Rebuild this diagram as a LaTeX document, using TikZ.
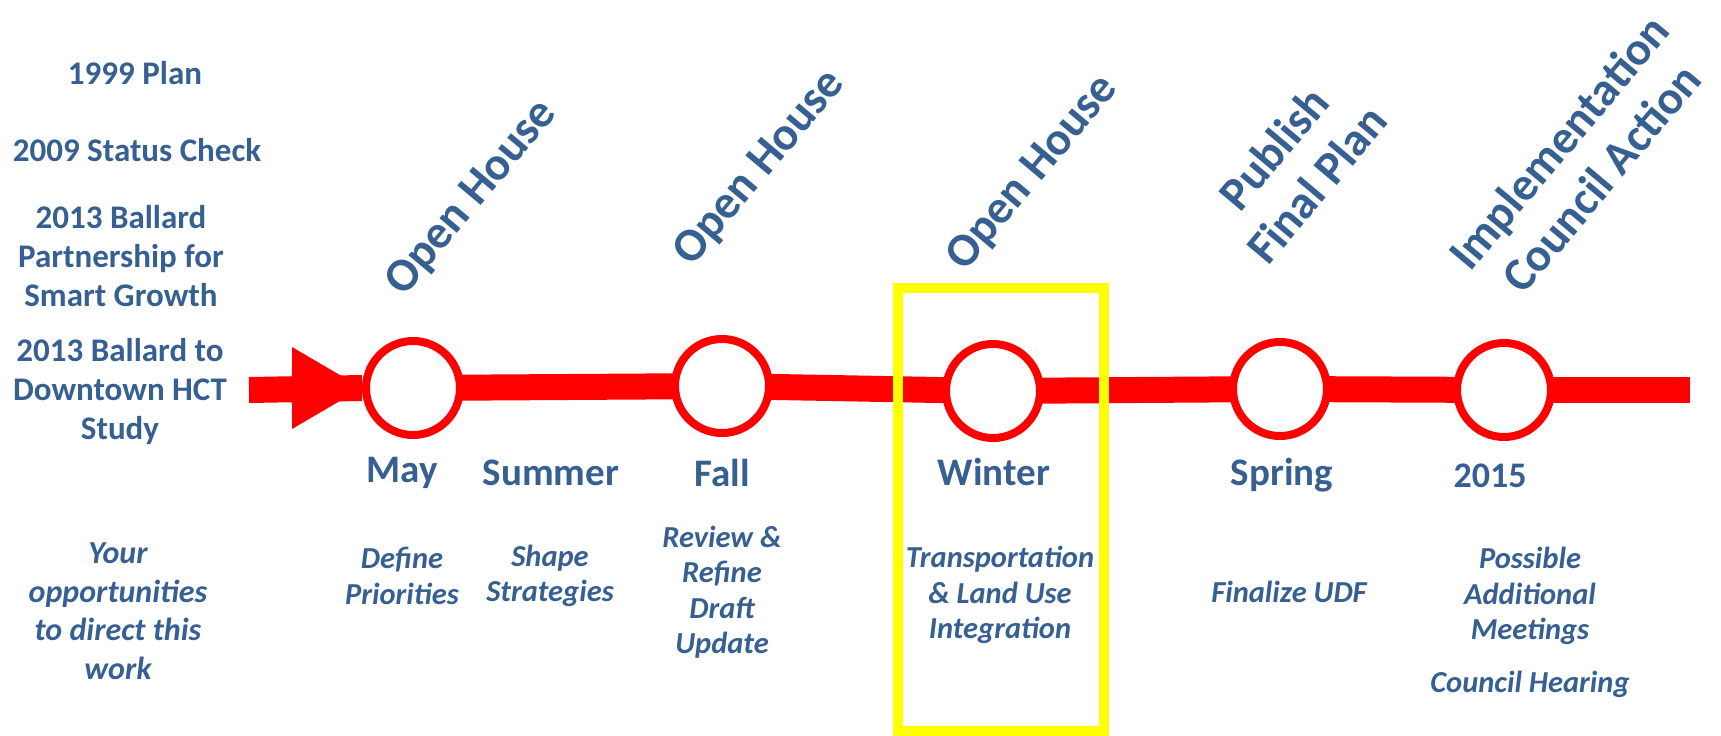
\documentclass[tikz,border=0pt]{standalone}
\usepackage{fontspec}
\setmainfont{Carlito}
\usetikzlibrary{calc}
\definecolor{tblue}{HTML}{365F92}
\definecolor{tred}{HTML}{FF0000}
\definecolor{tyel}{HTML}{FFFF00}
\tikzset{
  leftlbl/.style={font=\bfseries\fontsize{33}{39}\selectfont, text=tblue, align=center, inner sep=0pt},
  season/.style={font=\bfseries\fontsize{39}{42}\selectfont, text=tblue, inner sep=0pt},
  desc/.style={font=\bfseries\itshape\fontsize{30.5}{35.5}\selectfont, text=tblue, align=center, inner sep=0pt},
  bigdesc/.style={font=\bfseries\itshape\fontsize{32}{38.5}\selectfont, text=tblue, align=center, inner sep=0pt},
  ttl/.style={font=\bfseries\fontsize{47}{56}\selectfont, text=tblue, align=center, rotate=50, inner sep=0pt},
  milestone/.style={circle, draw=tred, line width=8pt, fill=white, minimum size=94pt, inner sep=0pt},
  timeline/.style={draw=tred, line width=26pt, shorten <=-4pt, shorten >=-4pt},
  highlight/.style={draw=tyel, line width=10pt, minimum width=206pt, minimum height=443pt, inner sep=0pt}
}
\begin{document}
\begin{tikzpicture}[x=1pt,y=-1pt]
\useasboundingbox (0,0) rectangle (1721,736);
% milestones
\node[milestone] (may) at (413,388) {};
\node[milestone] (fall) at (722,386) {};
\node[milestone] (winter) at (993,391) {};
\node[milestone] (spring) at (1280,389) {};
\node[milestone] (y2015) at (1504,390) {};
\coordinate (start) at (249,390);
\coordinate (end) at (1690,390);
% timeline
\draw[draw=tred, line width=26pt] (start) -- (may.west);
\fill[tred] ($(may.west)+(-70,-41)$) coordinate (ah1) -- (may.west) -- ($(may.west)+(-70,41)$) coordinate (ah2) -- cycle;
\draw[timeline] (may) -- (fall);
\draw[timeline] (fall) -- (winter);
\draw[timeline] (winter) -- (spring);
\draw[timeline] (spring) -- (y2015);
\draw[draw=tred, line width=26pt, shorten <=-4pt] (y2015) -- (end);
% highlight frame
\node[highlight] (hl) at (1001,509.5) {};
% left column
\node[leftlbl] (l1) at (135,73) {1999 Plan};
\node[leftlbl] (l2) at (137,150) {2009 Status Check};
\node[leftlbl] (l3) at (121,256) {2013 Ballard\\Partnership for\\Smart Growth};
\node[leftlbl] (l4) at (120,392) {2013 Ballard to\\Downtown HCT\\Study};
\node[bigdesc] (l5) at (118,611) {Your\\opportunities\\to direct this\\work};
% seasons
\node[season] (s1) at (402,473) {May};
\node[season] (s2) at (551,473) {Summer};
\node[season] (s3) at (722,473) {Fall};
\node[season] (s4) at (994,472) {Winter};
\node[season] (s5) at (1282,475) {Spring};
\node[season, font=\bfseries\fontsize{36}{40}\selectfont] (s6) at (1490,476) {2015};
% descriptions
\node[desc] (d1) at (402,576) {Define\\Priorities};
\node[desc] (d2) at (550,576) {Shape\\Strategies};
\node[desc] (d3) at (722,592) {Review \&\\Refine\\Draft\\Update};
\node[desc] (d4) at (1000,595) {Transportation\\\& Land Use\\Integration};
\node[desc] (d5) at (1289,592) {Finalize UDF};
\node[desc] (d6) at (1530,596) {Possible\\Additional\\Meetings};
\node[desc] (d7) at (1530,684) {Council Hearing};
% rotated titles
\node[ttl] (t1) at (472,198) {Open House};
\node[ttl] (t2) at (760,168) {Open House};
\node[ttl] (t3) at (1033,173) {Open House};
\node[ttl] (t4) at (1295,166) {Publish\\Final Plan};
\node[ttl] (t5) at (1580,160) {Implementation\\Council Action};
\end{tikzpicture}
\end{document}
